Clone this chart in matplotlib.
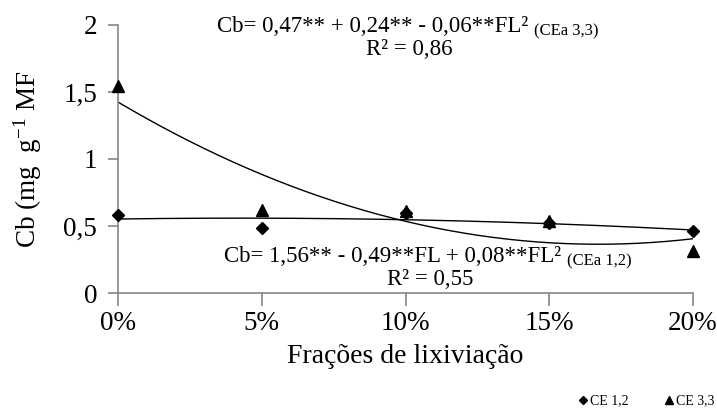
import numpy as np
import matplotlib
matplotlib.use("Agg")
import matplotlib.pyplot as plt
from matplotlib.lines import Line2D

plt.rcParams['font.family'] = ['Liberation Serif', 'DejaVu Serif']
plt.rcParams['mathtext.fontset'] = 'custom'
plt.rcParams['mathtext.rm'] = 'Liberation Serif'
plt.rcParams['mathtext.it'] = 'Liberation Serif:italic'
plt.rcParams['mathtext.bf'] = 'Liberation Serif:bold'

categories = ['0%', '5%', '10%', '15%', '20%']
ce12 = [0.58, 0.485, 0.60, 0.52, 0.46]
ce33 = [1.545, 0.62, 0.61, 0.54, 0.31]
yticks = [0, 0.5, 1, 1.5, 2]
ytick_labels = ['0', '0,5', '1', '1,5', '2']

W, H = 717, 411
fig = plt.figure(figsize=(W / 100, H / 100), dpi=100)
ax = fig.add_axes([118 / W, 1 - 293 / H, (693 - 118) / W, (293 - 25) / H])

x = np.arange(len(categories))
xf = np.linspace(0, len(categories) - 1, 200)
gray = '#868686'

for ys in (ce12, ce33):
    c = np.polyfit(x, ys, 2)
    ax.plot(xf, np.polyval(c, xf), color='black', lw=1.0, zorder=2)

ax.plot(x, ce12, ls='none', marker='D', ms=6.5, color='black', zorder=3, clip_on=False)
ax.plot(x, ce33, ls='none', marker='^', ms=8, color='black', zorder=3, clip_on=False)

ax.set_xlim(0, len(categories) - 1)
ax.set_ylim(0, 2)
ax.set_xticks(x)
ax.set_xticklabels(categories)
ax.set_yticks(yticks)
ax.set_yticklabels(ytick_labels)
for s in ('top', 'right'):
    ax.spines[s].set_visible(False)
for s in ('left', 'bottom'):
    ax.spines[s].set_color(gray)
    ax.spines[s].set_linewidth(1.2)
ax.tick_params(axis='x', direction='out', length=9, width=1.2, color=gray, labelsize=19.5, pad=4)
ax.tick_params(axis='y', direction='out', length=7, width=1.2, color=gray, labelsize=19.5, pad=8)

ax.set_xlabel('Frações de lixiviação', fontsize=20, labelpad=6)
ax.set_ylabel(r'Cb (mg  g$^{\mathregular{-1}}$ MF', fontsize=19.5, labelpad=14)

def px(xp, yp):
    return xp / W, 1 - yp / H

fig.canvas.draw()
renderer = fig.canvas.get_renderer()

def eq(xp, yb, main, sub, size=16.5, subsize=12):
    t = fig.text(*px(xp, yb), main, fontsize=size, ha='left', va='baseline')
    bb = t.get_window_extent(renderer)
    fig.text(bb.x1 / W + 6 / W, 1 - (yb + 3) / H, sub, fontsize=subsize, ha='left', va='baseline')

eq(217, 32, 'Cb= 0,47** + 0,24** - 0,06**FL²', '(CEa 3,3)')
fig.text(*px(409, 55), 'R² = 0,86', fontsize=16.5, ha='center', va='baseline')
eq(224, 262, 'Cb= 1,56** - 0,49**FL + 0,08**FL²', '(CEa 1,2)')
fig.text(*px(430, 285), 'R² = 0,55', fontsize=16.5, ha='center', va='baseline')

handles = [Line2D([], [], ls='none', marker='D', ms=4.5, color='black'),
           Line2D([], [], ls='none', marker='^', ms=5.5, color='black')]
fig.legend(handles, ['CE 1,2', 'CE 3,3'], loc='center right', bbox_to_anchor=(1.0, 1 - 401 / H),
           ncol=2, frameon=False, fontsize=10, handlelength=0.6, handletextpad=0.2,
           columnspacing=2.6, borderaxespad=0.1, borderpad=0.1)

fig.savefig('out.png', dpi=100)
